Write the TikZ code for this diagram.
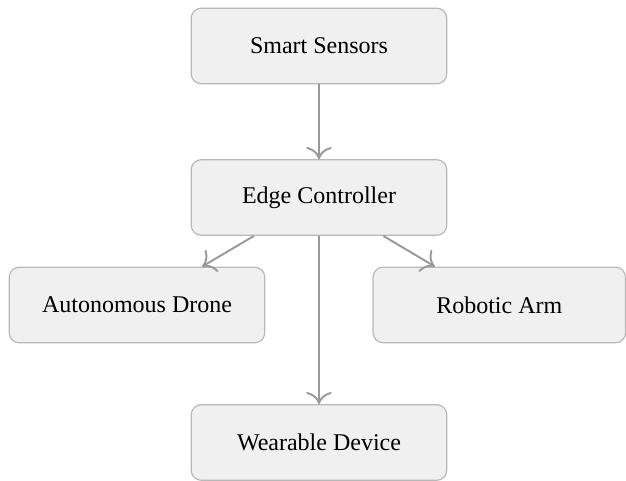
\documentclass[tikz,border=0pt]{standalone}
\usetikzlibrary{arrows.meta}
\usepackage{fontspec}
\setmainfont{Liberation Serif}
\begin{document}
\begin{tikzpicture}[x=0.4167pt,y=-0.4167pt,
  box/.style={draw=black!28, fill=black!6, rounded corners=4.2pt, line width=0.5pt,
    minimum width=106.5pt, minimum height=31.5pt, inner sep=0pt, font=\fontsize{10}{12}\selectfont},
  conn/.style={draw=black!40, line width=0.8pt, -{To[scale=1.5]}}]
\useasboundingbox (0,0) rectangle (626,481);
\node[box] (sensors) at (319,46) {Smart Sensors};
\node[box] (edge) at (319,197.5) {Edge Controller};
\node[box] (drone) at (137,305) {Autonomous Drone};
\node[box, minimum width=105.2pt] (arm) at (499.3,305) {Robotic Arm};
\node[box] (wear) at (319,442.5) {Wearable Device};
\draw[conn] (sensors) -- (edge);
\draw[conn] (edge) -- (drone);
\draw[conn] (edge) -- (arm);
\draw[conn] (edge) -- (wear);
\end{tikzpicture}
\end{document}
